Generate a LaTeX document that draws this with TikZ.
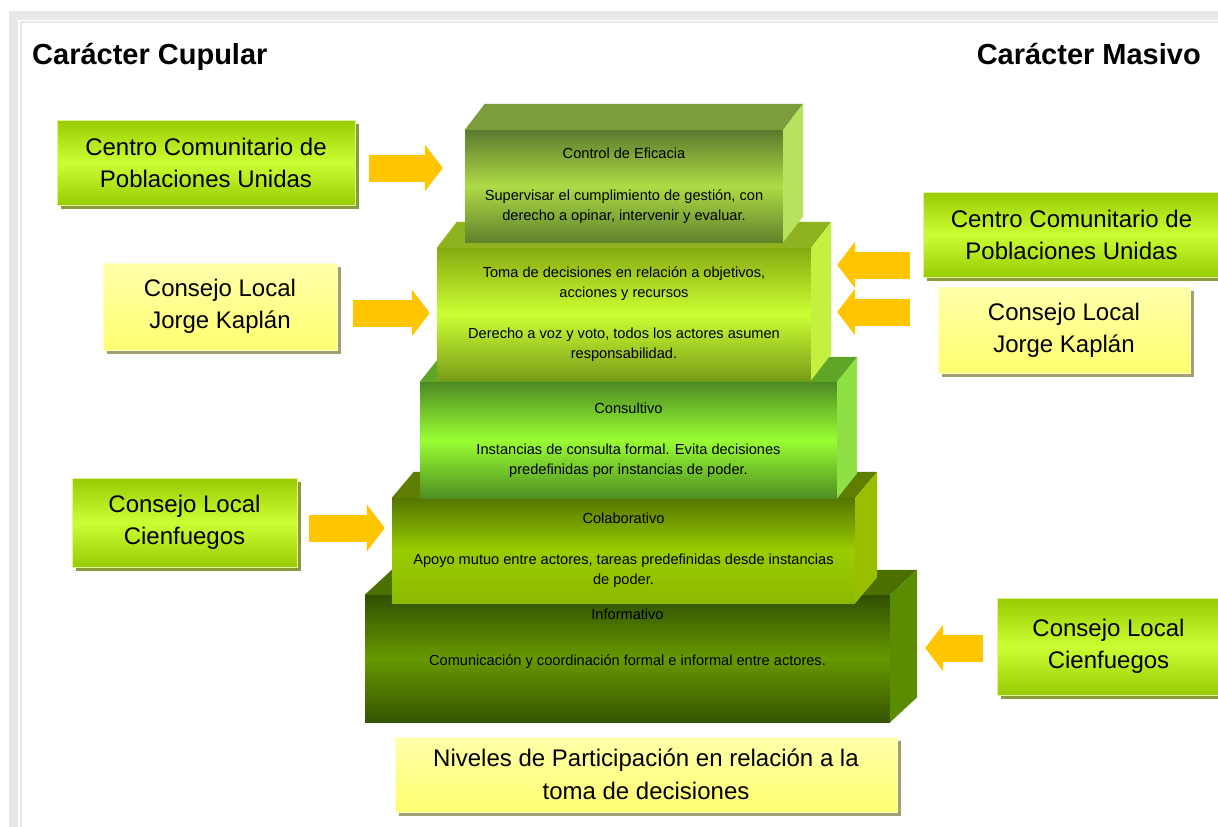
\documentclass[tikz,border=0pt]{standalone}
\usepackage{fontspec}
\setmainfont{Liberation Sans}
\usetikzlibrary{arrows.meta,calc,shadows}

\definecolor{marco}{HTML}{E8E8E8}
\definecolor{flecha}{HTML}{FFC600}
\definecolor{vosc}{HTML}{99CC00}
\definecolor{vclaro}{HTML}{CCFF33}
\definecolor{vborde}{HTML}{E2F4A0}
\definecolor{vsombra}{HTML}{8A9A3A}
\definecolor{aclaro}{HTML}{FFFFAA}
\definecolor{aosc}{HTML}{FFFF70}
\definecolor{aborde}{HTML}{FFFFCC}
\definecolor{asombra}{HTML}{A0A070}
\definecolor{infA}{HTML}{2F4F00}
\definecolor{infB}{HTML}{669900}
\definecolor{infC}{HTML}{355400}
\definecolor{infT}{HTML}{4B7000}
\definecolor{infS}{HTML}{5B8C00}
\definecolor{colA}{HTML}{567500}
\definecolor{colB}{HTML}{99CC00}
\definecolor{colC}{HTML}{8DB800}
\definecolor{colT}{HTML}{5F7D00}
\definecolor{colS}{HTML}{99BE00}
\definecolor{conA}{HTML}{4D8A22}
\definecolor{conB}{HTML}{99FF33}
\definecolor{conC}{HTML}{4F8E22}
\definecolor{conT}{HTML}{5FA628}
\definecolor{conS}{HTML}{8EE045}
\definecolor{decA}{HTML}{86AA10}
\definecolor{decB}{HTML}{CCFF33}
\definecolor{decC}{HTML}{7A9C18}
\definecolor{decT}{HTML}{8FB31E}
\definecolor{decS}{HTML}{C6F040}
\definecolor{efiA}{HTML}{5C7A2E}
\definecolor{efiB}{HTML}{ADDB45}
\definecolor{efiC}{HTML}{62822C}
\definecolor{efiT}{HTML}{7C9C3E}
\definecolor{efiS}{HTML}{B5E35E}

\newcommand{\caras}[4]{%
  \fill[#3] (#1.north west) -- ++(#2) -- ([shift={(#2)}]#1.north east) -- (#1.north east) -- cycle;
  \fill[#4] (#1.north east) -- ++(#2) -- ([shift={(#2)}]#1.south east) -- (#1.south east) -- cycle;}

\tikzset{
  caja/.style={inner sep=0pt, align=center, font=\fontsize{24}{32}\selectfont, line width=1pt},
  cajaverde/.style={caja, draw=vborde, top color=vosc, bottom color=vosc, middle color=vclaro,
    drop shadow={shadow xshift=4pt, shadow yshift=-4pt, fill=vsombra, opacity=1}},
  cajaamarilla/.style={caja, draw=aborde, top color=aclaro, bottom color=aosc,
    drop shadow={shadow xshift=4pt, shadow yshift=-4pt, fill=asombra, opacity=1}},
  nivel/.style={inner sep=0pt, align=center, font=\fontsize{14.6}{20}\selectfont,
    top color=#1A, bottom color=#1C, middle color=#1B},
  titulo/.style={inner sep=0pt, font=\bfseries\fontsize{29}{32}\selectfont},
  flechagorda/.style={draw=flecha, line width=27pt, -{Triangle[width=46pt,length=18pt]}},
}

\begin{document}
\begin{tikzpicture}[x=1pt,y=-1pt]
  \useasboundingbox (0,0) rectangle (1218,827);
  \fill[marco] (9,11) rectangle (1218,827);
  \fill[white] (18,20) rectangle (1218,827);
  \draw[marco, line width=1.5pt] (1218,22) -- (21,22) -- (21,827);

  \node[titulo, anchor=base west] (cupular) at (32,64) {Carácter Cupular};
  \node[titulo, anchor=base east] (masivo) at (1201,64) {Carácter Masivo};

  \node[nivel=inf, minimum width=525pt, minimum height=127pt] (informativo) at (627.5,658.5)
    {Informativo\\[26pt]Comunicación y coordinación formal e informal entre actores.\\[23pt]\mbox{}};
  \caras{informativo}{27,-25}{infT}{infS}
  \node[nivel=col, minimum width=463pt, minimum height=105pt] (colaborativo) at (623.5,550.5)
    {Colaborativo\\[21pt]Apoyo mutuo entre actores, tareas predefinidas desde instancias\\de poder.};
  \caras{colaborativo}{22,-26}{colT}{colS}
  \node[nivel=con, minimum width=417pt, minimum height=116pt] (consultivo) at (628.5,440)
    {Consultivo\\[21pt]Instancias de consulta formal. Evita decisiones\\predefinidas por instancias de poder.};
  \caras{consultivo}{20,-25}{conT}{conS}
  \node[nivel=dec, minimum width=374pt, minimum height=132pt] (decisiones) at (624,314)
    {Toma de decisiones en relación a objetivos,\\acciones y recursos\\[21pt]Derecho a voz y voto, todos los actores asumen\\responsabilidad.};
  \caras{decisiones}{20,-26}{decT}{decS}
  \node[nivel=efi, minimum width=318pt, minimum height=112pt] (eficacia) at (624,186)
    {Control de Eficacia\\[22pt]Supervisar el cumplimiento de gestión, con\\derecho a opinar, intervenir y evaluar.};
  \caras{eficacia}{20,-26}{efiT}{efiS}

  \node[cajaverde, minimum width=298pt, minimum height=85pt] (cc1) at (206,162.5) {Centro Comunitario de\\Poblaciones Unidas};
  \node[cajaamarilla, minimum width=234pt, minimum height=87pt] (kaplan1) at (220,306.5) {Consejo Local\\Jorge Kaplán};
  \node[cajaverde, minimum width=225pt, minimum height=89pt] (cienf1) at (184.5,522.5) {Consejo Local\\Cienfuegos};
  \node[cajaverde, minimum width=297pt, minimum height=85pt] (cc2) at (1071.5,234.5) {Centro Comunitario de\\Poblaciones Unidas};
  \node[cajaamarilla, minimum width=252pt, minimum height=86pt] (kaplan2) at (1064,330) {Consejo Local\\Jorge Kaplán};
  \node[cajaverde, minimum width=223pt, minimum height=97pt] (cienf2) at (1108.5,646.5) {Consejo Local\\Cienfuegos};
  \node[cajaamarilla, minimum width=502pt, minimum height=75pt, font=\fontsize{24}{33}\selectfont] (niveles) at (646,774.5) {Niveles de Participación en relación a la\\toma de decisiones};

  \coordinate (a1) at ($(cc1.east)+(0,5.5)$);
  \coordinate (a2) at ($(kaplan1.east)+(0,6.5)$);
  \coordinate (a3) at ($(cienf1.east)+(0,5.5)$);
  \coordinate (b1) at ($(cc2.west)+(0,30.5)$);
  \coordinate (b2) at ($(kaplan2.west)+(0,-18)$);
  \coordinate (b3) at ($(cienf2.west)+(0,1.5)$);
  \draw[flechagorda, shorten <=13pt, shorten >=22pt] (a1) -- (a1 -| eficacia.west);
  \draw[flechagorda, shorten <=15pt, shorten >=7pt] (a2) -- (a2 -| decisiones.west);
  \draw[flechagorda, shorten <=11pt, shorten >=7pt] (a3) -- (a3 -| colaborativo.west);
  \draw[flechagorda, shorten <=13pt, shorten >=26pt] (b1) -- (b1 -| decisiones.east);
  \draw[flechagorda, shorten <=28pt, shorten >=26pt] (b2) -- (b2 -| decisiones.east);
  \draw[flechagorda, shorten <=14pt, shorten >=35pt] (b3) -- (b3 -| informativo.east);
\end{tikzpicture}
\end{document}
